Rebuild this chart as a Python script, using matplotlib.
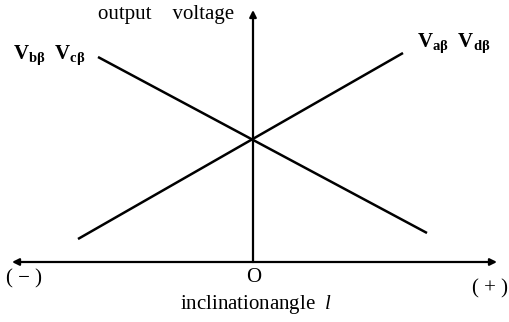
import matplotlib
matplotlib.use("Agg")
import matplotlib.pyplot as plt

plt.rcParams["font.family"] = ["Liberation Serif", "DejaVu Serif"]
plt.rcParams["mathtext.fontset"] = "custom"
plt.rcParams["mathtext.rm"] = "Liberation Serif"
plt.rcParams["mathtext.it"] = "Liberation Serif:italic"
plt.rcParams["mathtext.bf"] = "Liberation Serif:bold"

# inclination angle (arbitrary units, 0 = level) and output voltage
angle_bc = [-1.55, 1.74]
volt_bc = [2.05, 0.29]
angle_ad = [-1.75, 1.50]
volt_ad = [0.23, 2.09]

x_axis = [-2.41, 2.44]
y_axis = [0.0, 2.52]

fig = plt.figure(figsize=(5.09, 3.22), dpi=100)
ax = fig.add_axes([0, 0, 1, 1])
ax.set_xlim(-2.53, 2.56)
ax.set_ylim(-0.60, 2.62)
ax.axis("off")

ax.plot(angle_bc, volt_bc, color="black", lw=1.8, solid_capstyle="butt")
ax.plot(angle_ad, volt_ad, color="black", lw=1.8, solid_capstyle="butt")

arrow = dict(arrowstyle="-|>", color="black", lw=1.6, mutation_scale=10,
             shrinkA=0, shrinkB=0)
# horizontal axis, arrows both ways
ax.annotate("", xy=(x_axis[1], 0), xytext=(0, 0), arrowprops=arrow)
ax.annotate("", xy=(x_axis[0], 0), xytext=(0, 0), arrowprops=arrow)
# vertical axis
ax.annotate("", xy=(0, y_axis[1]), xytext=(0, y_axis[0]), arrowprops=arrow)

fs = 15
ax.text(-0.19, 2.47, "output    voltage", ha="right", va="center", fontsize=fs)
ax.text(-2.40, 2.07, r"$\mathbf{V}_{\mathbf{b\beta}}\ \ \mathbf{V}_{\mathbf{c\beta}}$",
        ha="left", va="center", fontsize=fs)
ax.text(1.64, 2.19, r"$\mathbf{V}_{\mathbf{a\beta}}\ \ \mathbf{V}_{\mathbf{d\beta}}$",
        ha="left", va="center", fontsize=fs)
ax.text(0.01, -0.15, "O", ha="center", va="center", fontsize=fs)
ax.text(-2.47, -0.17, "( \u2212 )", ha="left", va="center", fontsize=fs)
ax.text(2.55, -0.27, "( + )", ha="right", va="center", fontsize=fs)
ax.text(0.03, -0.43, r"inclinationangle  $\mathit{l}$", ha="center", va="center",
        fontsize=fs)

fig.savefig("out.png", dpi=100)
